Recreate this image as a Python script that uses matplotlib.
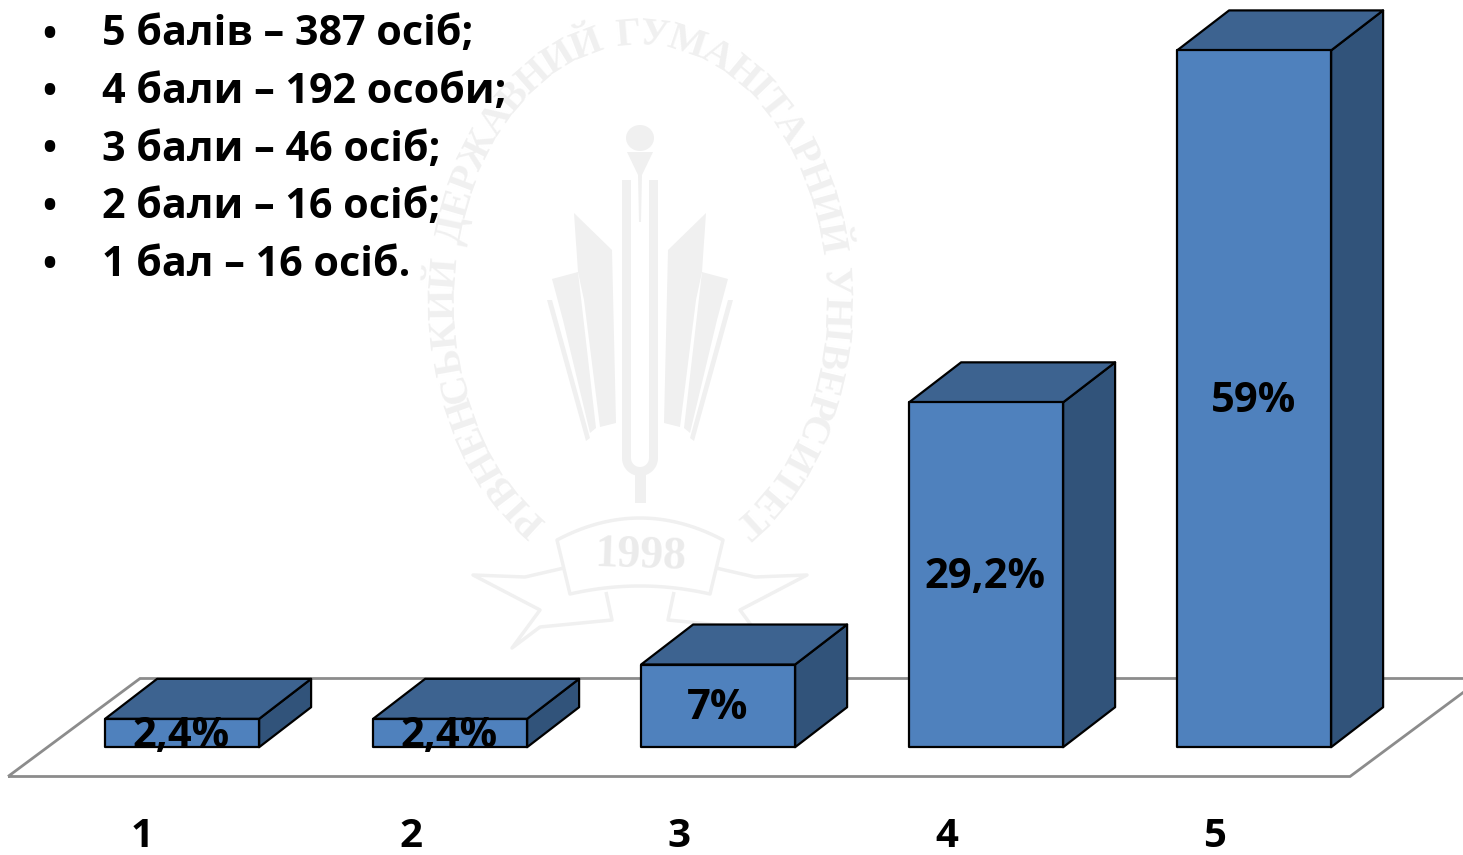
import numpy as np
import matplotlib
matplotlib.use('Agg')
import matplotlib.pyplot as plt
from matplotlib.patches import Polygon, Ellipse
from matplotlib.textpath import TextPath
from matplotlib.font_manager import FontProperties

# Datos del grafico
categories = [1, 2, 3, 4, 5]
values = [2.4, 2.4, 7, 29.2, 59]
value_labels = ['2,4%', '2,4%', '7%', '29,2%', '59%']
notes = ['5 балів – 387 осіб;', '4 бали – 192 особи;', '3 бали – 46 осіб;',
         '2 бали – 16 осіб;', '1 бал – 16 осіб.']
seal_text = 'РІВНЕНСЬКИЙ ДЕРЖАВНИЙ ГУМАНІТАРНИЙ УНІВЕРСИТЕТ'
seal_year = '1998'

W, H = 1463, 855
font = ['Open Sans', 'DejaVu Sans']
c_front, c_top, c_side = '#4F81BD', '#3D6390', '#31537A'
c_floor = '#8C8C8C'
c_mark = '#F0F0F0'

fig = plt.figure(figsize=(W/100, H/100), dpi=100)

# Capa de fondo en pixeles, para la marca de agua
bg = fig.add_axes([0, 0, 1, 1], zorder=0)
bg.set_xlim(0, W)
bg.set_ylim(H, 0)
bg.axis('off')

def both_sides(pts, **kw):
    pts = np.array(pts, dtype=float)
    bg.add_patch(Polygon(pts, **kw))
    mir = pts.copy()
    mir[:, 0] = 1280 - mir[:, 0]
    bg.add_patch(Polygon(mir, **kw))

solid = dict(fc=c_mark, ec='none')
line = dict(fc='none', ec=c_mark, lw=2.5, joinstyle='round')
# Libros
both_sides([(574, 213), (612, 250), (616, 423), (600, 427), (584, 300), (578, 272)], **solid)
both_sides([(552, 279), (578, 272), (596, 428), (590, 433), (563, 320)], **solid)
both_sides([(547, 300), (552, 300), (590, 438), (586, 441)], **solid)
# Diapason
ang = np.linspace(np.pi, 2*np.pi, 30)
outer = [(622, 180)] + [(640 + 18*np.cos(k), 458 - 18*np.sin(k)) for k in ang] + [(658, 180)]
inner = [(649, 180)] + [(640 + 9*np.cos(k), 458 - 9*np.sin(k)) for k in ang[::-1]] + [(631, 180)]
bg.add_patch(Polygon(outer + inner, **solid))
bg.fill_between([635, 646], 470, 503, color=c_mark, lw=0)
# Antorcha
bg.add_patch(Ellipse((640, 138), 28, 26, **solid))
bg.add_patch(Polygon([(627, 152), (653, 152), (642, 175), (641, 222), (639, 222), (638, 175)], **solid))
# Cinta
t = np.linspace(-1, 1, 30)
top_arc = [(640 + 83*s, 518 + 22*s**2) for s in t]
bot_arc = [(640 + 70*s, 586 + 8*s**2) for s in t[::-1]]
bg.add_patch(Polygon(top_arc + bot_arc, **line))
both_sides([(564, 568), (525, 577), (473, 575), (540, 610), (512, 648),
            (540, 627), (612, 620), (606, 592)], closed=False, **line)
bg.text(640, 557, seal_year, family='Liberation Serif', weight='bold', fontsize=33,
        color='#EBEBEB', ha='center', va='center', rotation=-2)

# Letras sobre la elipse, repartidas segun el ancho de cada una
cx, cy, a, b = 640, 300, 195, 265
tt = np.radians(np.linspace(-146, 146, 2000))
arc = np.concatenate([[0], np.cumsum(np.hypot(np.diff(a*np.sin(tt)), np.diff(b*np.cos(tt))))])
prop = FontProperties(family='Liberation Serif', weight='bold')
widths = [TextPath((0, 0), ch, size=10, prop=prop).get_extents().width if ch != ' ' else 3.0
          for ch in seal_text]
widths = np.array(widths) + 1.0
centers = np.cumsum(widths) - widths/2
centers = (centers - centers[0])/(centers[-1] - centers[0])
for ch, pos in zip(seal_text, centers):
    th = np.interp(pos*arc[-1], arc, tt)
    rot = np.degrees(np.arctan2(-b*np.sin(th), a*np.cos(th)))
    bg.text(cx + a*np.sin(th), cy - b*np.cos(th), ch, family='Liberation Serif', weight='bold',
            fontsize=29, color=c_mark, ha='center', va='center', rotation=rot,
            rotation_mode='anchor')

# Ejes del grafico: y en %, x en categorias
base_px, pct_px, cat_px = 776.5, 11.81, 268
x1_px, y0_px = 182.1, 747.2
ax = fig.add_axes([0, 1 - base_px/H, 1, base_px/H], zorder=1)
ax.patch.set_alpha(0)
ax.set_xlim(1 - x1_px/cat_px, 1 + (W - x1_px)/cat_px)
ax.set_ylim(-(base_px - y0_px)/pct_px, y0_px/pct_px)
for s in ax.spines.values():
    s.set_visible(False)
ax.set_yticks([])

bw = 154/cat_px
dx = 52/cat_px
dy = 40/pct_px

# Suelo
fy0, fy1 = ax.get_ylim()[0], (y0_px - 678.5)/pct_px
fx0, fx1 = 1 + (8 - x1_px)/cat_px, 1 + (1350 - x1_px)/cat_px
fdx = 132/cat_px
ax.add_patch(Polygon([(fx0, fy0), (fx1, fy0), (fx1 + fdx, fy1), (fx0 + fdx, fy1)],
                     fc='none', ec=c_floor, lw=2.0, clip_on=False, zorder=1))

for x, v, lab in zip(categories, values, value_labels):
    l, r = x - bw/2, x + bw/2
    ax.add_patch(Polygon([(r, 0), (r + dx, dy), (r + dx, v + dy), (r, v)],
                         fc=c_side, ec='black', lw=1.6, joinstyle='round', zorder=2))
    ax.add_patch(Polygon([(l, v), (r, v), (r + dx, v + dy), (l + dx, v + dy)],
                         fc=c_top, ec='black', lw=1.6, joinstyle='round', zorder=2))
    ax.add_patch(Polygon([(l, 0), (r, 0), (r, v), (l, v)],
                         fc=c_front, ec='black', lw=1.6, joinstyle='round', zorder=3))
    ax.annotate(lab, (x, v/2), xytext=(-1, -3), textcoords='offset pixels', family=font,
                weight='bold', fontsize=30, color='black', ha='center', va='center', zorder=5)

ax.set_xticks([x - 39.5/cat_px for x in categories])
ax.set_xticklabels([str(c) for c in categories], family=font, weight='bold', fontsize=29)
ax.tick_params(axis='x', length=0, pad=29)

# Lista de arriba
top = fig.add_axes([0, 0, 1, 1], zorder=2)
top.set_xlim(0, W)
top.set_ylim(H, 0)
top.axis('off')
for i, n in enumerate(notes):
    yy = 45.5 + i*57.5
    top.text(42, yy, '•', family=font, fontsize=27, weight='bold', color='black', va='baseline')
    top.text(102, yy, n, family=font, fontsize=29.7, weight='bold', color='black', va='baseline')

fig.savefig('out.png', dpi=100)
